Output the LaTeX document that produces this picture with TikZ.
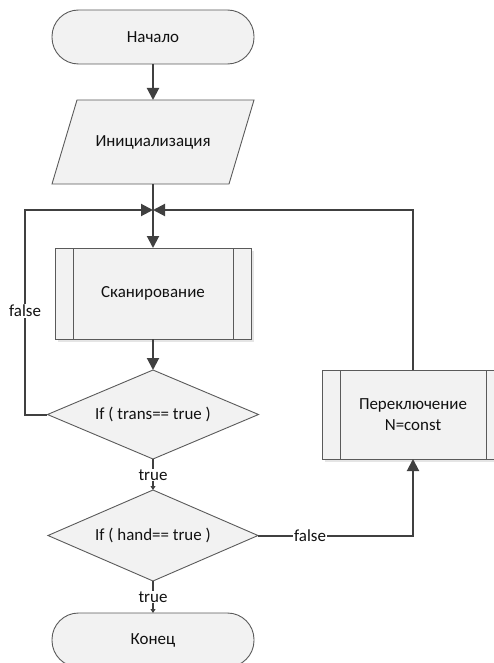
\documentclass[tikz,border=0pt]{standalone}
\usepackage{fontspec}
\setmainfont{Carlito}
\usetikzlibrary{arrows.meta,calc}
\definecolor{lineC}{HTML}{404040}
\definecolor{edgeC}{HTML}{5A5A5A}
\definecolor{fillC}{HTML}{F2F2F2}
\definecolor{txtC}{HTML}{111111}
\tikzset{
  anchorbox/.style={draw=none,inner sep=0,outer sep=0,text=txtC,font=\fontsize{17}{20}\selectfont,align=center},
  shp/.style={draw=edgeC,line width=0.9bp,fill=fillC},
  shd/.style={fill=black!10,draw=none},
  conn/.style={draw=lineC,line width=2bp,-{Triangle[length=12bp,width=12bp]}},
  connsmall/.style={draw=lineC,line width=2bp,-{Triangle[length=4bp,width=5bp]}},
  lbl/.style={fill=white,inner sep=1bp,text=txtC,font=\fontsize{17}{20}\selectfont}
}
\begin{document}
\begin{tikzpicture}[x=1bp,y=-1bp]
\useasboundingbox (0,0) rectangle (494,663);
\clip (0,0) rectangle (494,663);
% nodes (anchor boxes)
\node[anchorbox,minimum width=202bp,minimum height=54bp] (start) at (153,37) {};
\node[anchorbox,minimum width=202bp,minimum height=84bp] (init) at (153,142) {};
\node[anchorbox,minimum width=196bp,minimum height=91bp] (scan) at (153,293.5) {};
\node[anchorbox,minimum width=211bp,minimum height=89bp] (d1) at (153,414.5) {};
\node[anchorbox,minimum width=210bp,minimum height=91bp] (d2) at (153,535.5) {};
\node[anchorbox,minimum width=202bp,minimum height=54bp] (fin) at (153,640) {};
\node[anchorbox,minimum width=182bp,minimum height=89bp] (sw) at (413,414.5) {};
\coordinate (J) at (153,210);
% shapes
\draw[shp,rounded corners=26.5bp] (start.north west) rectangle (start.south east);
\draw[shp] ($(init.north west)+(25,0)$) -- (init.north east) -- ($(init.south east)+(-25,0)$) -- (init.south west) -- cycle;
\fill[shd] ($(scan.north west)+(3,3)$) rectangle ($(scan.south east)+(3,3)$);
\draw[shp] (scan.north west) rectangle (scan.south east);
\draw[edgeC,line width=0.9bp] ($(scan.north west)+(18,0)$) -- ($(scan.south west)+(18,0)$);
\draw[edgeC,line width=0.9bp] ($(scan.north east)+(-18,0)$) -- ($(scan.south east)+(-18,0)$);
\draw[shp] (d1.north) -- (d1.east) -- (d1.south) -- (d1.west) -- cycle;
\draw[shp] (d2.north) -- (d2.east) -- (d2.south) -- (d2.west) -- cycle;
\draw[shp,rounded corners=26.5bp] (fin.north west) rectangle (fin.south east);
\fill[shd] ($(sw.north west)+(3,3)$) rectangle ($(sw.south east)+(3,3)$);
\draw[shp] (sw.north west) rectangle (sw.south east);
\draw[edgeC,line width=0.9bp] ($(sw.north west)+(18,0)$) -- ($(sw.south west)+(18,0)$);
\draw[edgeC,line width=0.9bp] ($(sw.north east)+(-18,0)$) -- ($(sw.south east)+(-18,0)$);
% texts
\node[anchorbox] at (start) {Начало};
\node[anchorbox] at (init) {Инициализация};
\node[anchorbox] at (scan) {Сканирование};
\node[anchorbox] at (d1) {If ( trans== true )};
\node[anchorbox] at (d2) {If ( hand== true )};
\node[anchorbox] at (fin) {Конец};
\node[anchorbox,font=\fontsize{17}{21}\selectfont] at (sw) {Переключение\\N=const};
% connectors
\draw[conn] (start.south) -- (init.north);
\draw[draw=lineC,line width=2bp] (init.south) -- (J);
\draw[conn] (J) -- (scan.north);
\draw[conn] (scan.south) -- (d1.north);
\coordinate (L) at (25,210);
\draw[conn] (d1.west) -| (L) -- (J);
\draw[conn] (sw.north) |- (J);
\draw[connsmall] (d1.south) -- (d2.north);
\draw[connsmall] (d2.south) -- (fin.north);
\draw[conn] (d2.east) -| (sw.south);
% labels
\node[lbl] (t1) at (153,475) {true};
\node[lbl] (t2) at (153,597) {true};
\node[lbl] (f1) at (25,311) {false};
\node[lbl] (f2) at (310,536) {false};
\end{tikzpicture}
\end{document}
